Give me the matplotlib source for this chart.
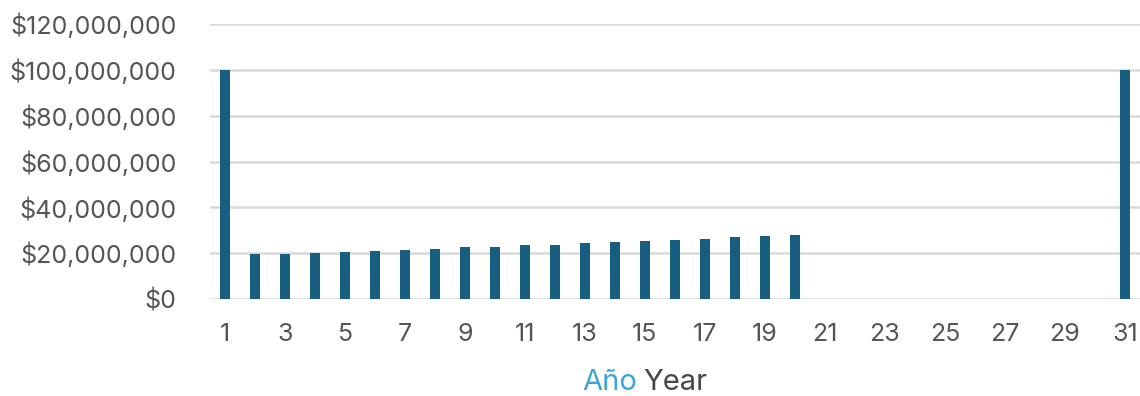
import matplotlib.pyplot as plt
from matplotlib.ticker import FuncFormatter

# pagos anuales del bono
years = list(range(1, 32))
payments = [100.0, 19.6, 19.8, 20.1, 20.7, 21.0, 21.6, 21.9, 22.5, 22.8,
            23.4, 23.7, 24.3, 24.7, 25.2, 25.8, 26.4, 26.9, 27.6, 27.8,
            0, 0, 0, 0, 0, 0, 0, 0, 0, 0, 100.0]
payments = [p * 1e6 for p in payments]
xtick_years = list(range(1, 32, 2))

plt.rcParams['font.family'] = ['Inter', 'DejaVu Sans']

fig = plt.figure(figsize=(11.4, 3.96), dpi=100)
ax = fig.add_axes([0.184, 0.245, 0.816, 0.694])

ax.bar(years, payments, width=0.32, color='#175E80', zorder=3)

ax.set_xlim(0.5, 31.5)
ax.set_ylim(0, 120e6)
ax.set_yticks(range(0, 120000001, 20000000))
ax.yaxis.set_major_formatter(FuncFormatter(lambda v, _: f'${v:,.0f}'))
ax.set_xticks(xtick_years)

ax.grid(axis='y', color='#D9D9D9', linewidth=1.8, zorder=0)
for s in ax.spines.values():
    s.set_visible(False)
ax.tick_params(axis='both', length=0, labelsize=18, colors='#555555')
ax.tick_params(axis='y', pad=24)
ax.tick_params(axis='x', pad=17)

fig.text(0.559, 0.033, 'Año', color='#3DA5DA', fontsize=21, ha='right', va='center')
fig.text(0.564, 0.033, 'Year', color='#474747', fontsize=21, ha='left', va='center')

fig.savefig('out.png')
